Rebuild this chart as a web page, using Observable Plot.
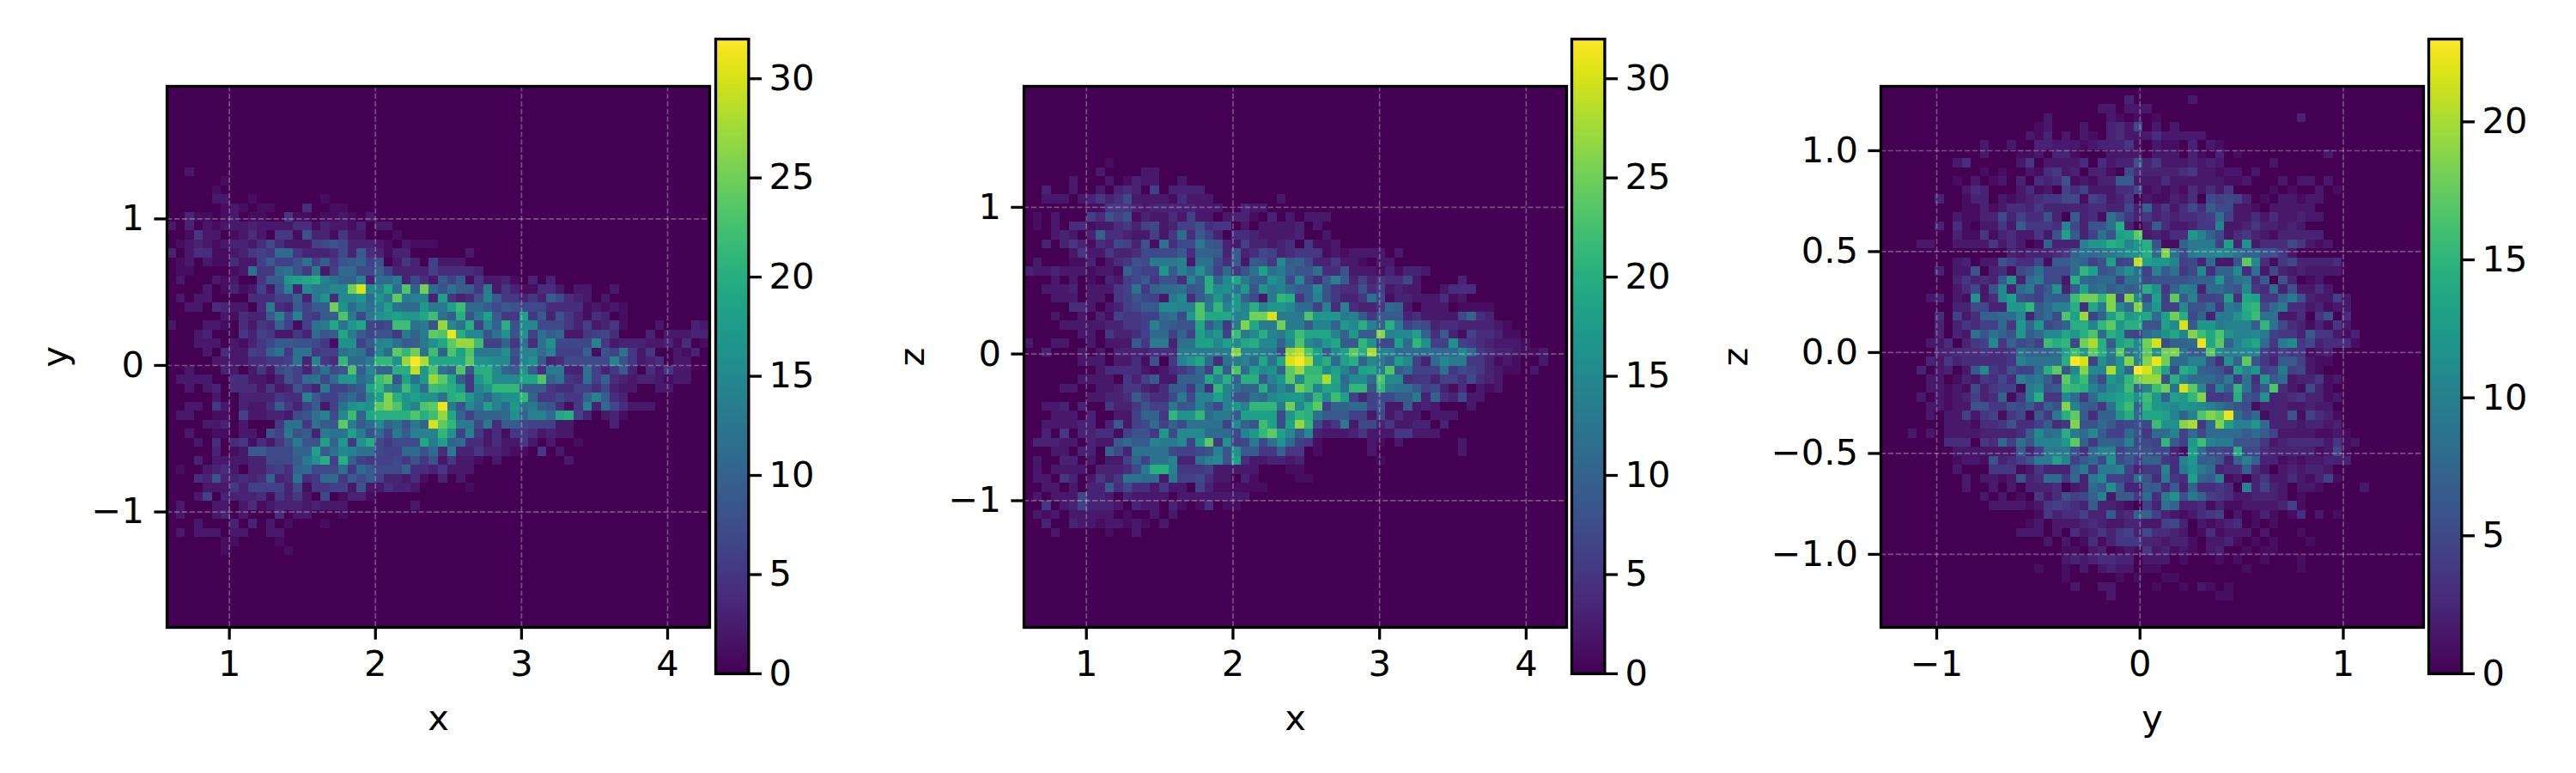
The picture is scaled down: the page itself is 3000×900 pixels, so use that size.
<!DOCTYPE html>
<html>
<head>
<meta charset="utf-8">
<script src="https://cdn.jsdelivr.net/npm/d3@7"></script>
<script src="https://cdn.jsdelivr.net/npm/@observablehq/plot@0.6"></script>
<style>
html,body{margin:0;padding:0;background:#fff;width:3000px;height:900px;overflow:hidden}
#c{position:relative;width:3000px;height:900px}
#c>svg,#c>div{position:absolute}
</style>
</head>
<body>
<div id="c"></div>
<script>
// Each row: optional "startColumn:" then one base-36 digit per bin (0-9, a=10 ... w=32). Spaces are only for reading.
const xyFirstRow = 9;
const xyRows = [
"002","0000001","000001","000002200100000001","00000012101100040011","00311012011005110112102",
"2030212223222244132213022","00152201242055183315220001","012321233247422267873332102111",
"302441123565bb5333473943133000000 2","012021142269668c69589a68025306222","011000012c55bc85d26bb77a63333644443",
"0200021200 599hijkeca ae3bbd3742 9691522310 303",
"0000201312 628e3fddff pufejbnapb 8c995d2531 1442022002",
"0202200004 4466a3dg4f fhbgdodee3 i5348e9553 539743202",
"0022043220 4d439699pg beceicbbhd dimbb97987 774444121 21",
"0000002143 39e7e6599n d7dghihhjm c9k8di955i 593853143 01",
"2000221042 54a616cdjc hj767mmcd8 rfck6fak8f f777536235 1000200032",
"0002300053 652253b89j d97885dado nvkff8cg8g 6c9b225674 0003022233",
"0002220213 579988751g g69efc99dg jorrm66a5c 4cg7777e52 3332231401",
"0000204226 5ac5cc566c dc7fbolpcm anindddg8e ebe666a186 c525002130",
"0000022224 4556c3e54l bbdllgrwsj jjjoggff7e g93477777e 85234022",
"0020003202 5278638c78 n9faakkthn can8kkfa9g 94dd33c635 93042522",
"0222200442 21386bc7bh hbdmo8ichr oj95hkfffj jnac54c6a4 32332122",
"0020230444 2523853d66 89jlfdmhbm lkh5ehlll9 9954466473 220022",
"0000020033 33544e9669 b8fiqkgigg cklhdaeggl a55755ae94 3",
"0022052032 249536926c ghgoqnheno vd8fciebhc d98415e3b7 4222",
"0220011062 233278ce7f majkkkknkm rja6aaabga eebjk63023 1",
"0000223020 005cc5c99o d9bfac8dau oldd7d4997 6662200003",
"0020011022 086d893dcc id8b7d9eee lg6e524155 42322",
"0002040451 4258d88iah 5gk75777jd iab4424225 202001",
"0000030129 9777aai9cf ecc766bb8b 4d33533211 0502",
"0003022223 37779dgk6k a656675858 2522102000 00002",
"0100234203 3564ab777c 5b9777a443 5222",
"0004383343 4a34c45bb5 9796332410 302",
"0000222536 6663715566 2822433200 0001",
"0002603333 4153520701 331",
"0200022024 1233323222 00000002",
"0200023020 0040220001",
"0002000303 0201000100",
"0202220220 022",
"0000001100001",
"00000010000001"
];
const xzFirstRow = 8;
const xzRows = [
"9:1","8:2000022","5:2000201322002","2:300200203430603333","2:2220235347222214222 0000000 2",
"7:11555323333322200322","1:1020006486 8132242622 0233103020 222","1:1020441224 5367236684 5502022223 02",
"3:23203a4432 2625b49630 4432222300 2","2:3035314376 381c477d98 3263323405 112",
"5:2522533477 7794aa9393 4763455512 1222202","1:2000113024 587ddde2cc 7492985f9a 7335221022",
"3223222122 1a766h9ebg b6b58cicda 88c4482221 31332",
"3:2020103267 95884eakaf jdaage7f74 9e93635447 200003",
"2:2223022256 c5abbc89kf gch8gdeb99 f854484623 22002444",
"3:2220220568 762df49chc ha72dlk59e 85335c7133 222412",
"5:4420236799 ffeendlehe kehhfbb6e4 e4335ba202 22011 11",
"3:2002031655 66bc7hnjjj efppudddnh hhde959993 422227a 43",
"4:2222233556 ea988j9d5d qjddpdd9ee ahfkeakd68 734433 3321",
"6:22053346bb 6a6ieh6mdf kedhmjjjea h99qeffia4 9316 44311",
"2002200202 2295dd3cci ififjkffaf nfdhj99lg7 7iblg66g65 432221",
"2:3000202033 33444ddddd dqeedd7rtn i9fiokseeb bbbbbbfb 54332112",
"6:2220224180 5ehjb4cdeb jcjuwshkbi kafdaif63b fdd5 53121002",
"8:2444421245 7b6k9nbifg aorllfieai jdn9b666c5 76 5321102",
"6:2222053692 2aaajekakk 9ehofmmsjb ffbnff4553 6647 432",
"4:2200223553 24995c4lec aakbfcpmej icll8ldcc9 67314 0212",
"7:2233496447 d7eeie88cb fghhdlfmi6 367799d3a4 372 2",
"2:2230300533 5866d89ea7 ehellldpfk o6aabb6822 92320002",
"3:2220300226 aa5lgglbdd 9iiii7hlkc 9996627242 20222",
"2:2222330392 67b6a7cccc 6fa8mi7irl 735d277352 23303",
"2:3050334416 885h7fffbb b7ehloif9f 3222352225 5222",
"1:3332203229 b99eddf6ho 5g67d7cgb6 5100000210 20000002",
"3:220330a73c ccc76678e8 g9955a5501 00000 2 000000000 2",
"1:2003302022 6a6cce33ce f8i4223323 00000000 1",
"1:2022220333 47dkke5556 2222200011",
"1:2205302535 ccbb2d6674 2203100001 1",
"2:2202033947 4425220631 11111",
"1:2022273320 3222202222 2222",
"2:5023633320 3220310140 11",
"1:2120222220 100202",
"2:3003221221 2102",
"3:2000001002"
];
// Third panel digits are read on the colour bar as a fraction of its top: level 32 is the bar's maximum.
const yzFirstRow = 1;
const yzRows = [
"27:30000002","24:220222","18:2000000210101 000000000000000 3","17:1200020034270202","16:21302021034222422222",
"11:200200332221233351021103021","11:20001120331000222202220310301 000000000 2",
"8:24 00000 25022224042338352223232 00000 2","11:1010021452303310743333452212202",
"8:1020120304 3481213399 2224222222 1120002022 02",
"9:2430002412 0646222447 1212142425 0000101002 01",
"6:300 1330212345 5771652350 2113240767 6301022122",
"9:1131244353 3333443373 a352474977 221022222",
"8:2113373644 8309341c85 353434456c 6224242232 2",
"6:30 4102252955 54e7388ck3 039422355e 223533232",
"8:3115134225 28i936c8ij o23244hea7 2453213333 3",
"4:2200 2222524201 a333ehhkje hk811addd6 i3g2444752 12",
"8:0000003233 345acbcdeg gkbqc7deef ecaa8852",
"8:2302286447 199ba68i67 tihhe673b2 28of415733 334",
"6:30 228034178c 777bli89dg c6e9c57f4a af4c273232 222",
"8:353439g3bd 772kbabb6c c788889aah 9cd4908301 2",
"8:24728f3bd6 9g39ibc9b9 akg5aed3bb 98f54b3822 42",
"5:230 21g24fi876 a99mpplq6q f7i6o9e667 i4ji55ad83 2262",
"8:337733hhl9 beek4jdqfb qch66f88b5 dckl7bd442 3122",
"6:40 624aabbf39 b7nir6aimh ijbipk7a3d dgjmcc2240 5804",
"6:30 35466b5hbh 78akkelohk k88ifu9hhd eee9lc7431 3152",
"6:30 32c8ca8h9b ffjhknbki7 6bdgjeqmjn geefd65539 55213",
"5:224 0356f5a786 mkl7psk9ik fpu7aabvjo aehjb5df57 34441",
"6:33 4445445caa abimhokdoc eogpqc99of deee646551 23",
"5:325 3444445ecc cckwu6gcgq eqvpbbee84 gao8539962 11",
"4:3023 029f54866b ko8fqfesha wuoi7kia98 5ieh67d672 1",
"5:220 1325474ecd 95oimb7hfl prr8kebbb9 d5c4h9b233 512",
"5:221 21735661df 89mlkebfgm aempcuof6e 9lc59n4217 31",
"4:2021 23634a15dk 55fb5bghik gmhaihlq55 6k87g33453 312",
"5:221 2288558795 a8qea95cjm alhgfhgfec a871333223 22",
"5:202 2625615719 5dko94aagk bjjieaenqo vb8b133816 431",
"6:02 2214458446 945q88b967 87mggqs5bq ieehb33323 323",
"3:20202 222333349f bckdbf966b 85bbe6b7bb bb9b962222 1121",
"7:4 44054b6c8e eehoa5aa9e 776l96hmed d888523444 42512",
"8:2222222936 ddd84bee68 887731ib77 6k77433333 1271",
"8:122183468d die69b7g79 6aa54eh9a8 3aea331212 2333",
"8:2000555125 333ad5dde6 355e4dgdb3 44a4202323 32",
"8:0202212834 bb5b3df665 c84d54ia9e 1203522421 361",
"8:0200202033 34023b9g93 399493a445 40e3632022 100002",
"8:0002020105 24867ae299 5b4dg8da65 4223332010",
"12:222212 5654393321 063ca33413 112222361",
"17:1 5344633934 aa63212456 0201310140 201",
"16:1202223432233226730212340101",
"15:2220204235 3563744320 1412220200 01",
"18:2020141355 5332331022 3101010001",
"20:1102301215 2312102300 1011",
"20:2323443302 2201000101 0010001",
"17:100 1020232201 1 000000000 1 00000 1",
"20:1000001010011",
"21:200220000100102101",
"25:2 00000000000 11"
];

const bins = 60;
const xyXDomain = [0.573, 4.288], xyYDomain = [-1.788, 1.905];
const xzXDomain = [0.574, 4.276], xzYDomain = [-1.864, 1.825];
const yzXDomain = [-1.2746, 1.395], yzYDomain = [-1.362, 1.319];
const xyXTicks = [1, 2, 3, 4], xyYTicks = [-1, 0, 1];
const yzXTicks = [-1, 0, 1], yzYTicks = [-1, -0.5, 0, 0.5, 1];
const barTicks32 = [0, 5, 10, 15, 20, 25, 30], barTicks23 = [0, 5, 10, 15, 20];
const xyMax = 32, xzMax = 32, yzMax = 23;

const fontSize = 41.67, lineW = 3.3, tickLen = 14.6, font = "DejaVu Sans";
const minus = f => d => f(d).replace("-", "\u2212");

function decode(rows, firstRow, xDom, yDom, factor) {
  const out = [], dx = (xDom[1] - xDom[0]) / bins, dy = (yDom[1] - yDom[0]) / bins;
  const grid = d3.range(bins).map(() => new Array(bins).fill(0));
  rows.forEach((s, k) => {
    const m = s.replace(/ /g, "").split(":");
    const start = m.length > 1 ? +m[0] : 0, digits = m[m.length - 1];
    for (let i = 0; i < digits.length && start + i < bins; i++)
      grid[firstRow + k][start + i] = parseInt(digits[i], 36) * factor;
  });
  for (let r = 0; r < bins; r++) for (let c = 0; c < bins; c++)
    out.push({x1: xDom[0] + c * dx, x2: xDom[0] + (c + 1) * dx,
              y1: yDom[1] - r * dy, y2: yDom[1] - (r + 1) * dy, v: grid[r][c]});
  return out;
}

const root = document.getElementById("c");
const mL = 200, mB = 160, mT = 2, mR = 2;

function panel({left, cells, xDom, yDom, xTicks, yTicks, xLabel, yLabel, max, yFmt, labelOff}) {
  const svg = Plot.plot({
    width: 632 + mL + mR, height: 630 + mT + mB,
    marginLeft: mL, marginRight: mR, marginTop: mT, marginBottom: mB,
    style: {fontFamily: font, background: "transparent", overflow: "visible"},
    x: {domain: xDom}, y: {domain: yDom},
    color: {type: "linear", scheme: "viridis", domain: [0, max]},
    marks: [
      Plot.rect(cells, {x1: "x1", x2: "x2", y1: "y1", y2: "y2", fill: "v", shapeRendering: "crispEdges"}),
      Plot.ruleX(xTicks, {stroke: "white", strokeOpacity: 0.3, strokeWidth: 1.67, strokeDasharray: "6.2 2.7"}),
      Plot.ruleY(yTicks, {stroke: "white", strokeOpacity: 0.3, strokeWidth: 1.67, strokeDasharray: "6.2 2.7"}),
      Plot.frame({stroke: "black", strokeWidth: lineW}),
      Plot.axisX(xTicks, {tickSize: tickLen, tickPadding: 12, strokeWidth: lineW, fontSize,
        stroke: "black", fill: "black", label: xLabel, labelAnchor: "center", labelArrow: "none", labelOffset: 119,
        tickFormat: minus(d3.format("d"))}),
      Plot.axisY(yTicks, {tickSize: tickLen, tickPadding: 12, strokeWidth: lineW, fontSize,
        stroke: "black", fill: "black", label: yLabel, labelAnchor: "center", labelArrow: "none", labelOffset: labelOff,
        tickFormat: minus(d3.format(yFmt))})
    ]
  });
  svg.style.left = (left - mL) + "px";
  svg.style.top = (100 - mT) + "px";
  root.appendChild(svg);
}

function colorbar({left, width, max, ticks}) {
  const top = 45, bottom = 784, right = 120;
  const stops = d3.range(256);
  const svg = Plot.plot({
    width: width + 4 + right, height: bottom - top + 4,
    marginLeft: 2, marginRight: right, marginTop: 2, marginBottom: 2,
    style: {fontFamily: font, background: "transparent", overflow: "visible"},
    x: {domain: [0, 1], axis: null}, y: {domain: [0, max]},
    color: {type: "linear", scheme: "viridis", domain: [0, max]},
    marks: [
      Plot.rect(stops, {x1: 0, x2: 1, y1: i => i * max / 256, y2: i => (i + 1) * max / 256,
        fill: i => (i + 0.5) * max / 256, shapeRendering: "crispEdges"}),
      Plot.frame({stroke: "black", strokeWidth: lineW}),
      Plot.axisY(ticks, {anchor: "right", tickSize: tickLen, tickPadding: 9, strokeWidth: lineW, fontSize,
        stroke: "black", fill: "black", label: null, tickFormat: d3.format("d")})
    ]
  });
  svg.style.left = (left - 2) + "px";
  svg.style.top = (top - 2) + "px";
  root.appendChild(svg);
}

panel({left: 194, cells: decode(xyRows, xyFirstRow, xyXDomain, xyYDomain, xyMax / 32),
  xDom: xyXDomain, yDom: xyYDomain, xTicks: xyXTicks, yTicks: xyYTicks, xLabel: "x", yLabel: "y", max: xyMax, yFmt: "d", labelOff: 146});
panel({left: 1192, cells: decode(xzRows, xzFirstRow, xzXDomain, xzYDomain, xzMax / 32),
  xDom: xzXDomain, yDom: xzYDomain, xTicks: xyXTicks, yTicks: xyYTicks, xLabel: "x", yLabel: "z", max: xzMax, yFmt: "d", labelOff: 146});
panel({left: 2190, cells: decode(yzRows, yzFirstRow, yzXDomain, yzYDomain, yzMax / 32),
  xDom: yzXDomain, yDom: yzYDomain, xTicks: yzXTicks, yTicks: yzYTicks, xLabel: "y", yLabel: "z", max: yzMax, yFmt: ".1f", labelOff: 185});
colorbar({left: 832.7, width: 36.4, max: xyMax, ticks: barTicks32});
colorbar({left: 1830, width: 36.4, max: xzMax, ticks: barTicks32});
colorbar({left: 2828, width: 36.4, max: yzMax, ticks: barTicks23});
</script>
</body>
</html>
